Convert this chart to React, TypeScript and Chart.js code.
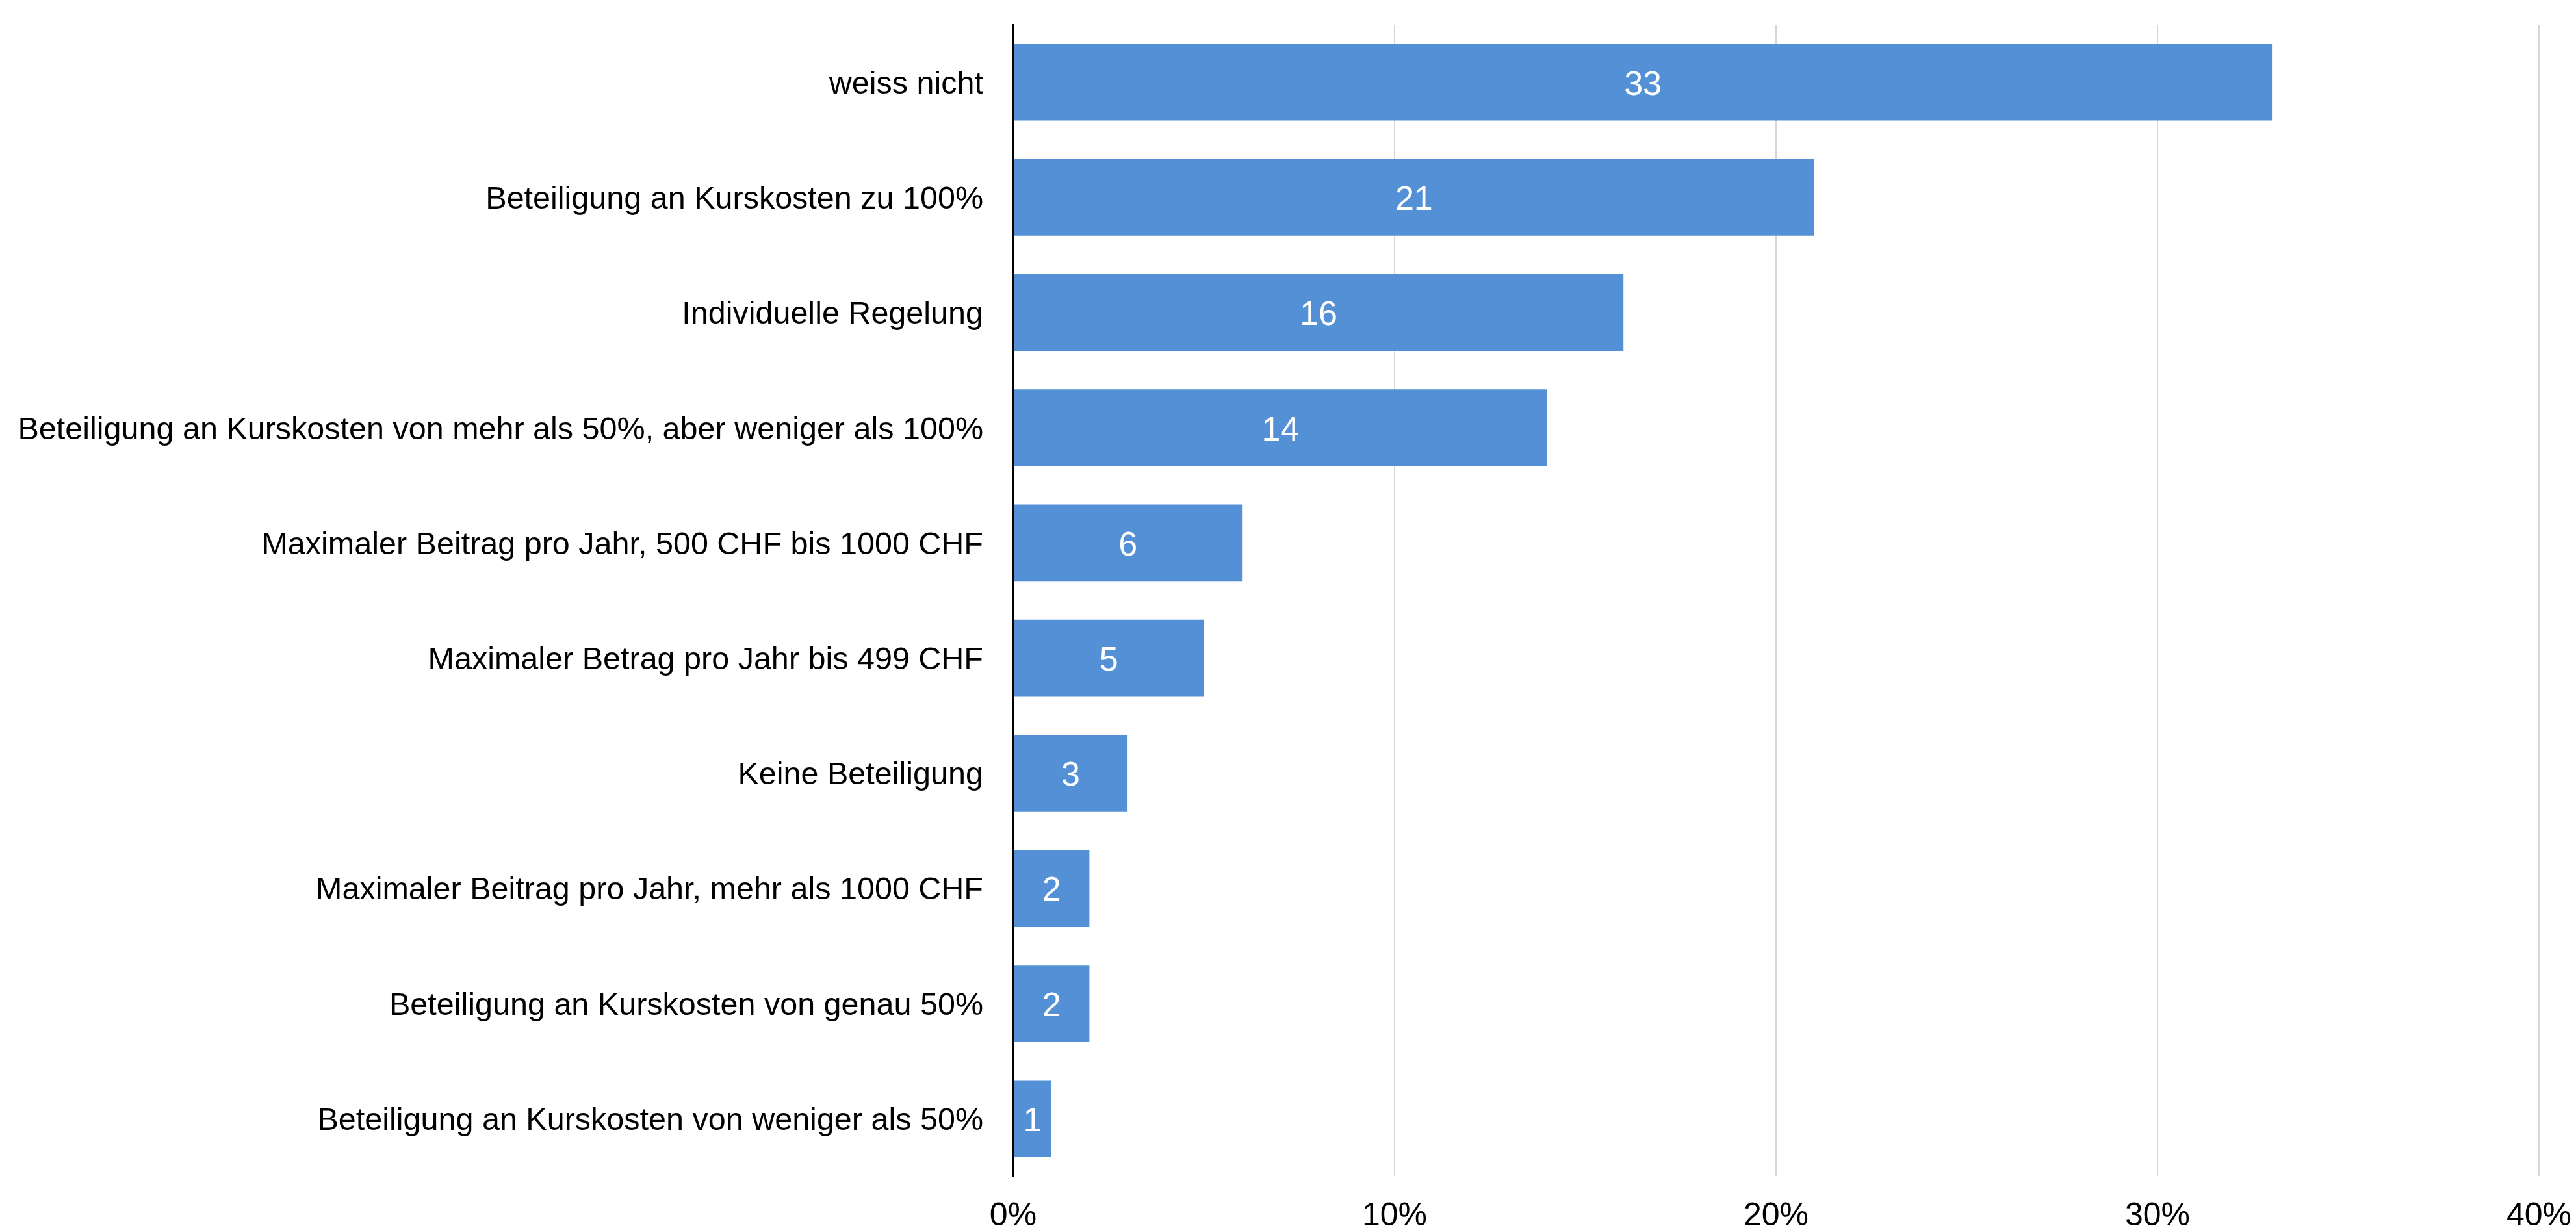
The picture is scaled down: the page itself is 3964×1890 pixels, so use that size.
import React, { useEffect, useRef } from "react";
import { Chart, registerables } from "chart.js";

Chart.register(...registerables);

const categories = [
  "weiss nicht",
  "Beteiligung an Kurskosten zu 100%",
  "Individuelle Regelung",
  "Beteiligung an Kurskosten von mehr als 50%, aber weniger als 100%",
  "Maximaler Beitrag pro Jahr, 500 CHF bis 1000 CHF",
  "Maximaler Betrag pro Jahr bis 499 CHF",
  "Keine Beteiligung",
  "Maximaler Beitrag pro Jahr, mehr als 1000 CHF",
  "Beteiligung an Kurskosten von genau 50%",
  "Beteiligung an Kurskosten von weniger als 50%",
];
const values = [33, 21, 16, 14, 6, 5, 3, 2, 2, 1];
const xTicks = [0, 10, 20, 30, 40];

const FONT = "'Liberation Sans', Arial, Helvetica, sans-serif";

const barLabels = {
  id: "barLabels",
  afterDatasetsDraw(chart: any) {
    const ctx = chart.ctx;
    const meta = chart.getDatasetMeta(0);
    ctx.save();
    ctx.fillStyle = "#ffffff";
    ctx.font = `52px ${FONT}`;
    ctx.textAlign = "center";
    ctx.textBaseline = "middle";
    meta.data.forEach((bar: any, i: number) => {
      const { x, y, base } = bar.getProps(["x", "y", "base"], true);
      ctx.fillText(String(values[i]), (x + base) / 2, y + 5);
    });
    ctx.restore();
  },
};

export default function App() {
  const ref = useRef<HTMLCanvasElement | null>(null);
  useEffect(() => {
    document.body.style.margin = "0";
    document.body.style.overflow = "hidden";
    const chart = new Chart(ref.current!, {
      type: "bar",
      data: {
        labels: categories,
        datasets: [
          {
            data: values,
            backgroundColor: "#5490d6",
            borderWidth: 0,
            barPercentage: 0.665,
            categoryPercentage: 1,
          },
        ],
      },
      options: {
        indexAxis: "y",
        animation: false,
        responsive: false,
        devicePixelRatio: 1,
        layout: { padding: { top: 38, right: 0, bottom: 0, left: 0 } },
        plugins: {
          legend: { display: false },
          tooltip: { enabled: false },
        },
        scales: {
          x: {
            min: 0,
            max: 40,
            afterBuildTicks: (scale: any) => {
              scale.ticks = xTicks.map((v) => ({ value: v }));
            },
            afterFit: (scale: any) => {
              scale.height = 80;
              scale.paddingLeft = 0;
              scale.paddingRight = 57;
            },
            ticks: {
              color: "#000",
              font: { family: FONT, size: 50 },
              padding: 32,
              maxRotation: 0,
              callback: (v: any) => `${v}%`,
            },
            grid: {
              drawTicks: false,
              color: (c: any) => (c.tick && c.tick.value === 0 ? "rgba(0,0,0,0)" : "#d6d6d6"),
              lineWidth: 2,
            },
            border: { display: false },
          },
          y: {
            afterFit: (scale: any) => {
              scale.width = 1559;
              scale.paddingTop = 0;
              scale.paddingBottom = 0;
            },
            ticks: {
              color: "#000",
              font: { family: FONT, size: 48.5 },
              padding: 46,
              labelOffset: 4,
            },
            grid: { display: false, drawTicks: false },
            border: { display: true, color: "#000", width: 3 },
          },
        },
      },
      plugins: [barLabels],
    });
    return () => chart.destroy();
  }, []);
  return (
    <canvas
      ref={ref}
      width={3964}
      height={1890}
      style={{ display: "block", width: "3964px", height: "1890px" }}
    />
  );
}
